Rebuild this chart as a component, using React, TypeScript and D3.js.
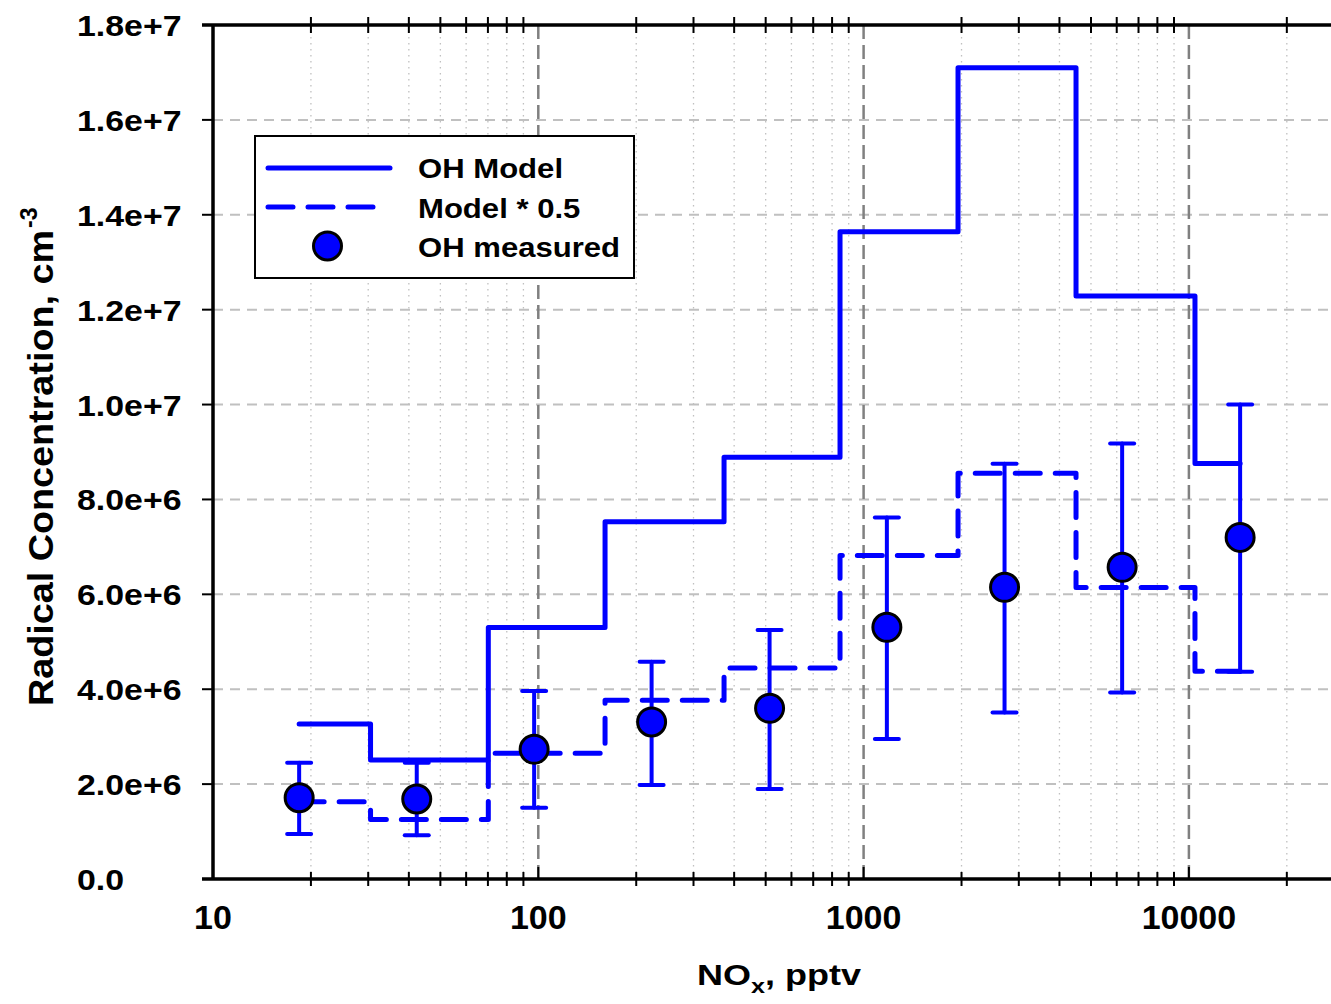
import React from "react";
import * as d3 from "d3";

// ---- data ----
const noxMeasured = [18.4, 42.3, 97.1, 223, 514, 1179, 2712, 6234, 14370];
const ohMeasured = [1.714e6, 1.686e6, 2.734e6, 3.31e6, 3.598e6, 5.305e6, 6.148e6, 6.57e6, 7.2e6];
const ohErrHigh = [2.451e6, 2.45e6, 3.96e6, 4.58e6, 5.25e6, 7.62e6, 8.75e6, 9.18e6, 1.0e7];
const ohErrLow = [0.948e6, 0.92e6, 1.503e6, 1.98e6, 1.897e6, 2.95e6, 3.51e6, 3.93e6, 4.37e6];

const binEdges = [18.4, 30.5, 70.2, 160.4, 372.4, 846.3, 1951, 4498, 10440, 14370];
const modelOH = [3.265e6, 2.508e6, 5.3e6, 7.53e6, 8.89e6, 13.64e6, 17.1e6, 12.29e6, 8.76e6];
const modelHalf = [1.63e6, 1.255e6, 2.65e6, 3.765e6, 4.445e6, 6.82e6, 8.55e6, 6.145e6, 4.38e6];

const yTickValues = [0, 2e6, 4e6, 6e6, 8e6, 1e7, 1.2e7, 1.4e7, 1.6e7, 1.8e7];
const yTickLabels = ["0.0", "2.0e+6", "4.0e+6", "6.0e+6", "8.0e+6", "1.0e+7", "1.2e+7", "1.4e+7", "1.6e+7", "1.8e+7"];
const xTickValues = [10, 100, 1000, 10000];
const xTickLabels = ["10", "100", "1000", "10000"];

const legendLabels = ["OH Model", "Model * 0.5", "OH measured"];

const BLUE = "#0000ff";
const FONT = "'Liberation Sans', Arial, Helvetica, sans-serif";

export default function App() {
  const W = 1331;
  const H = 1004;
  const left = 213;
  const top = 25;
  const bottom = 879;
  const decade = 325.3;
  const xMaxVal = 30000;

  const x = d3
    .scaleLog()
    .domain([10, xMaxVal])
    .range([left, left + decade * Math.log10(xMaxVal / 10)]);
  const y = d3.scaleLinear().domain([0, 1.8e7]).range([bottom, top]);

  const minorTicks: number[] = [];
  for (const dec of [10, 100, 1000, 10000]) {
    for (let k = 2; k <= 9; k++) {
      const v = k * dec;
      if (v <= xMaxVal) minorTicks.push(v);
    }
  }

  const stepLine = d3
    .line<[number, number]>()
    .x((d) => x(d[0]))
    .y((d) => y(d[1]))
    .curve(d3.curveStepAfter);

  const stepPts = (vals: number[]) =>
    binEdges.map((e, i) => [e, vals[Math.min(i, vals.length - 1)]] as [number, number]);

  const rightEdge = W + 20;
  const dashPattern = "25,15";

  return (
    <svg
      width={W}
      height={H}
      style={{ position: "absolute", left: 0, top: 0, background: "#fff" }}
      fontFamily={FONT}
      fontWeight="bold"
    >
      <rect x={0} y={0} width={W} height={H} fill="#fff" />
      {/* minor vertical grid */}
      {minorTicks.map((v) => (
        <line
          key={"mg" + v}
          x1={x(v)}
          x2={x(v)}
          y1={top}
          y2={bottom}
          stroke="#c0c0c0"
          strokeWidth={1.3}
          strokeDasharray="1.5,4.5"
        />
      ))}
      {/* horizontal grid */}
      {yTickValues.slice(1).map((v) => (
        <line
          key={"hg" + v}
          x1={left}
          x2={rightEdge}
          y1={y(v)}
          y2={y(v)}
          stroke="#c0c0c0"
          strokeWidth={2}
          strokeDasharray="10,7"
        />
      ))}
      {/* major vertical grid */}
      {xTickValues.slice(1).map((v) => (
        <line
          key={"vg" + v}
          x1={x(v)}
          x2={x(v)}
          y1={top}
          y2={bottom}
          stroke="#808080"
          strokeWidth={2.5}
          strokeDasharray="14,6"
        />
      ))}

      {/* model lines */}
      <path
        d={stepLine(stepPts(modelOH)) || ""}
        fill="none"
        stroke={BLUE}
        strokeWidth={5}
        strokeLinejoin="round"
        strokeLinecap="round"
      />
      <path
        d={stepLine(stepPts(modelHalf)) || ""}
        fill="none"
        stroke={BLUE}
        strokeWidth={5}
        strokeDasharray={dashPattern}
        strokeLinecap="round"
        strokeLinejoin="round"
      />

      {/* error bars */}
      {noxMeasured.map((v, i) => {
        const cx = x(v);
        return (
          <g key={"eb" + i} stroke={BLUE} strokeWidth={4} strokeLinecap="round">
            <line x1={cx} x2={cx} y1={y(ohErrLow[i])} y2={y(ohErrHigh[i])} />
            <line x1={cx - 12} x2={cx + 12} y1={y(ohErrLow[i])} y2={y(ohErrLow[i])} />
            <line x1={cx - 12} x2={cx + 12} y1={y(ohErrHigh[i])} y2={y(ohErrHigh[i])} />
          </g>
        );
      })}
      {/* points */}
      {noxMeasured.map((v, i) => (
        <circle
          key={"pt" + i}
          cx={x(v)}
          cy={y(ohMeasured[i])}
          r={14}
          fill={BLUE}
          stroke="#000"
          strokeWidth={3}
        />
      ))}

      {/* axes */}
      <line x1={left} x2={left} y1={top} y2={bottom} stroke="#000" strokeWidth={3.5} />
      <line x1={left - 11} x2={rightEdge} y1={bottom} y2={bottom} stroke="#000" strokeWidth={3.5} />
      <line x1={left - 11} x2={rightEdge} y1={top} y2={top} stroke="#000" strokeWidth={3.5} />
      {yTickValues.map((v) => (
        <line key={"yt" + v} x1={left - 11} x2={left} y1={y(v)} y2={y(v)} stroke="#000" strokeWidth={2} />
      ))}
      {minorTicks.map((v) => (
        <g key={"mt" + v} stroke="#000" strokeWidth={2}>
          <line x1={x(v)} x2={x(v)} y1={bottom - 7} y2={bottom + 7} />
          <line x1={x(v)} x2={x(v)} y1={top - 8} y2={top + 8} />
        </g>
      ))}
      {xTickValues.slice(1).map((v) => (
        <line key={"xt" + v} x1={x(v)} x2={x(v)} y1={bottom - 12} y2={bottom} stroke="#000" strokeWidth={2} />
      ))}

      {/* tick labels */}
      {yTickValues.map((v, i) => (
        <text
          key={"yl" + v}
          transform={`translate(77,${y(v) + 11}) scale(1.13,1)`}
          fontSize={30}
          fill="#000"
        >
          {yTickLabels[i]}
        </text>
      ))}
      {xTickValues.map((v, i) => (
        <text key={"xl" + v} x={x(v)} y={929} fontSize={34} textAnchor="middle" fill="#000">
          {xTickLabels[i]}
        </text>
      ))}

      {/* axis titles */}
      <text
        transform="translate(779,985) scale(1.2,1)"
        fontSize={30}
        textAnchor="middle"
        fill="#000"
      >
        NO
        <tspan fontSize={21} dy={8}>x</tspan>
        <tspan dy={-8}>, pptv</tspan>
      </text>
      <text transform="translate(53,706) rotate(-90)" fontSize={35} fill="#000">
        <tspan textLength={476} lengthAdjust="spacingAndGlyphs">Radical Concentration, cm</tspan>
        <tspan fontSize={23} dy={-16} dx={2}>-3</tspan>
      </text>

      {/* legend */}
      <rect x={255} y={136} width={379} height={142} fill="#fff" stroke="#000" strokeWidth={2} />
      <line x1={268} x2={390} y1={168} y2={168} stroke={BLUE} strokeWidth={5} strokeLinecap="round" />
      <line
        x1={268}
        x2={378}
        y1={207}
        y2={207}
        stroke={BLUE}
        strokeWidth={5}
        strokeDasharray={dashPattern}
        strokeLinecap="round"
      />
      <circle cx={327.5} cy={246} r={14} fill={BLUE} stroke="#000" strokeWidth={3} />
      {legendLabels.map((t, i) => (
        <text
          key={t}
          transform={`translate(418,${178 + i * 39.5}) scale(1.11,1)`}
          fontSize={28}
          fill="#000"
        >
          {t}
        </text>
      ))}
    </svg>
  );
}
